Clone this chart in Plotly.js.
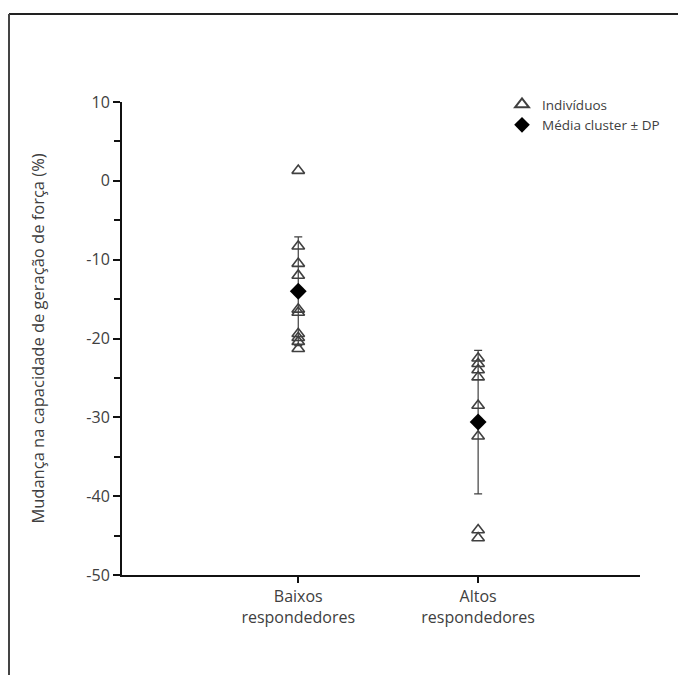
<!DOCTYPE html>
<html>
<head>
<meta charset="utf-8">
<script src="https://cdn.plot.ly/plotly-3.0.1.min.js"></script>
<style>html,body{margin:0;padding:0;background:#fff;overflow:hidden;}#chart{width:678px;height:675px;}</style>
</head>
<body>
<div id="chart"></div>
<script>
// Data
const categories = ["Baixos<br>respondedores", "Altos<br>respondedores"];
const baixosValues = [1.3, -8.3, -10.5, -12.0, -16.3, -16.7, -19.4, -19.9, -20.4, -21.3];
const altosValues = [-22.5, -23.2, -24.0, -24.9, -28.5, -32.4, -44.3, -45.3];
const clusterMeans = [-14.0, -30.6];
const clusterSD = [6.9, 9.1];
const yTickVals = [10, 0, -10, -20, -30, -40, -50];
const yTickText = ["10", "0", "-10", "-20", "-30", "-40", "-50"];

const ink = "#404040";
const fontFam = "'Open Sans', 'Noto Sans', sans-serif";

const indivX = baixosValues.map(() => 0).concat(altosValues.map(() => 1));
const indivY = baixosValues.concat(altosValues);

const traces = [
  {
    type: "scatter", mode: "markers", name: "Média cluster ± DP",
    x: [0, 1], y: clusterMeans,
    marker: {symbol: "diamond", size: 13, color: "#000"},
    error_y: {type: "data", array: clusterSD, visible: true, color: ink, thickness: 1.2, width: 4},
    legendrank: 2
  },
  {
    type: "scatter", mode: "markers", name: "Indivíduos",
    x: indivX, y: indivY,
    marker: {symbol: "triangle-up-open", size: 11, color: ink, line: {width: 1.6, color: ink}},
    legendrank: 1
  }
];

const L = 122, R = 640, T = 102, B = 575, W = 678, H = 675;
const pw = R - L, ph = B - T;
const px = v => (v - L) / pw;
const py = v => (B - v) / ph;

const layout = {
  width: W, height: H,
  margin: {l: L, r: W - R, t: T, b: H - B, pad: 0},
  paper_bgcolor: "#fff", plot_bgcolor: "#fff",
  font: {family: fontFam, color: ink, size: 15},
  showlegend: true,
  legend: {x: px(502), y: py(89), xanchor: "left", yanchor: "top", bgcolor: "rgba(0,0,0,0)",
           font: {size: 13.5, color: ink}, tracegroupgap: 0, itemsizing: "constant"},
  xaxis: {
    type: "linear", range: [-0.98, 1.9],
    tickvals: [0, 1], ticktext: categories,
    showgrid: false, zeroline: false,
    showline: true, linecolor: "#111", linewidth: 2,
    ticks: "outside", ticklen: 6, tickwidth: 2, tickcolor: "#111",
    tickfont: {size: 16, color: ink}
  },
  yaxis: {
    range: [-50, 10],
    tickvals: yTickVals, ticktext: yTickText,
    showgrid: false, zeroline: false,
    showline: true, linecolor: "#111", linewidth: 2,
    ticks: "outside", ticklen: 7, tickwidth: 2, tickcolor: "#111",
    tickfont: {size: 16, color: ink},
    minor: {dtick: 5, ticks: "outside", ticklen: 6, tickwidth: 2, tickcolor: "#111", showgrid: false},
    title: {text: "Mudança na capacidade de geração de força (%)", font: {size: 16.5, color: ink}, standoff: 38}
  },
  shapes: [
    {type: "line", xref: "paper", yref: "paper", x0: px(9), x1: px(678), y0: py(14), y1: py(14), line: {color: "#222", width: 2}},
    {type: "line", xref: "paper", yref: "paper", x0: px(9), x1: px(9), y0: py(14), y1: py(675), line: {color: "#444", width: 2}}
  ]
};

Plotly.newPlot("chart", traces, layout, {displayModeBar: false, staticPlot: true});
</script>
</body>
</html>
